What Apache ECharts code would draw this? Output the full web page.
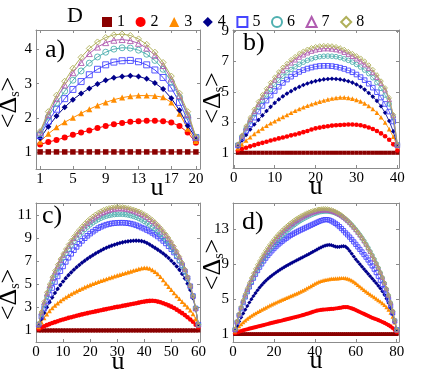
<!DOCTYPE html>
<html><head><meta charset="utf-8">
<script src="https://cdn.jsdelivr.net/npm/echarts@6/dist/echarts.min.js"></script>
<style>html,body{margin:0;padding:0;background:#fff}#c{width:431px;height:373px}</style>
</head><body><div id="c"></div><script>
// ---------- data ----------
const legendTitle = 'D';
const legendLabels = ['1','2','3','4','5','6','7','8'];
const panelLabels = ['a)','b)','c)','d)'];
const xTicksA = [1,5,9,13,17,20], yTicksA = [1,2,3,4];
const xTicksB = [0,10,20,30,40], yTicksB = [1,3,5,7,9];
const xTicksC = [0,10,20,30,40,50,60], yTicksC = [1,3,5,7,9,11];
const xTicksD = [0,20,40,60,80], yTicksD = [1,5,9,13];

// panel a) u = 1..20
const a1 = [1,1,1,1,1,1,1,1,1,1,1,1,1,1,1,1,1,1,1,1];
const a2 = [1.22,1.29,1.35,1.42,1.5,1.57,1.63,1.7,1.76,1.81,1.85,1.88,1.9,1.91,1.91,1.9,1.86,1.76,1.57,1.27];
const a3 = [1.3,1.53,1.72,1.87,2.0,2.13,2.25,2.36,2.45,2.53,2.59,2.63,2.65,2.65,2.64,2.6,2.45,2.12,1.68,1.32];
const a4 = [1.4,1.74,2.05,2.31,2.53,2.71,2.86,2.99,3.1,3.17,3.21,3.23,3.21,3.14,3.02,2.84,2.57,2.22,1.77,1.4];
const a5 = [1.48,1.9,2.25,2.56,2.83,3.06,3.26,3.42,3.55,3.63,3.67,3.68,3.64,3.55,3.4,3.18,2.87,2.45,1.93,1.42];
const a6 = [1.53,2.02,2.43,2.78,3.1,3.37,3.6,3.78,3.92,4.01,4.05,4.04,3.98,3.86,3.68,3.42,3.05,2.6,2.05,1.43];
const a7 = [1.58,2.1,2.56,2.96,3.32,3.62,3.88,4.07,4.2,4.27,4.29,4.26,4.18,4.04,3.83,3.53,3.14,2.65,2.1,1.43];
const a8 = [1.6,2.18,2.66,3.07,3.45,3.77,4.03,4.22,4.35,4.43,4.45,4.41,4.31,4.15,3.92,3.62,3.22,2.72,2.18,1.44];

// panel b) u = 1..40
const b1 = [1,1,1,1,1,1,1,1,1,1,1,1,1,1,1,1,1,1,1,1,1,1,1,1,1,1,1,1,1,1,1,1,1,1,1,1,1,1,1,1];
const b2 = [1.15,1.25,1.33,1.42,1.5,1.58,1.65,1.72,1.8,1.87,1.94,2.0,2.07,2.14,2.2,2.27,2.35,2.43,2.52,2.6,2.65,2.7,2.74,2.78,2.8,2.82,2.84,2.85,2.85,2.84,2.8,2.74,2.66,2.56,2.43,2.27,2.08,1.85,1.55,1.15];
const b3 = [1.3,1.55,1.8,2.02,2.24,2.43,2.6,2.77,2.93,3.07,3.22,3.35,3.48,3.62,3.75,3.87,3.98,4.08,4.18,4.27,4.35,4.43,4.5,4.56,4.6,4.63,4.63,4.6,4.55,4.47,4.37,4.24,4.07,3.87,3.63,3.33,2.98,2.55,2.05,1.45];
const b4 = [1.42,1.8,2.17,2.52,2.85,3.15,3.45,3.74,4.01,4.27,4.5,4.7,4.88,5.04,5.19,5.32,5.44,5.54,5.63,5.7,5.76,5.81,5.84,5.85,5.84,5.81,5.76,5.69,5.6,5.48,5.33,5.14,4.92,4.68,4.4,4.05,3.62,3.08,2.4,1.5];
const b5 = [1.48,1.95,2.42,2.87,3.3,3.7,4.07,4.42,4.75,5.05,5.33,5.58,5.8,5.99,6.16,6.3,6.42,6.52,6.59,6.65,6.69,6.7,6.7,6.68,6.64,6.58,6.5,6.4,6.28,6.13,5.96,5.76,5.53,5.27,4.97,4.62,4.2,3.7,3.05,1.5];
const b6 = [1.52,2.05,2.58,3.08,3.55,4.0,4.42,4.8,5.15,5.47,5.76,6.02,6.25,6.46,6.64,6.8,6.94,7.06,7.16,7.24,7.3,7.33,7.34,7.33,7.3,7.24,7.16,7.06,6.94,6.79,6.62,6.42,6.19,5.92,5.6,5.22,4.78,4.2,3.35,1.5];
const b7 = [1.55,2.1,2.65,3.2,3.72,4.2,4.65,5.05,5.43,5.78,6.1,6.4,6.66,6.9,7.1,7.28,7.43,7.56,7.67,7.75,7.8,7.83,7.83,7.81,7.77,7.7,7.6,7.47,7.33,7.17,6.98,6.78,6.55,6.27,5.95,5.57,5.13,4.5,3.45,1.52];
const b8 = [1.55,2.15,2.75,3.3,3.85,4.35,4.8,5.2,5.6,5.95,6.3,6.6,6.85,7.1,7.3,7.5,7.65,7.78,7.88,7.95,8.0,8.02,8.02,8.0,7.95,7.87,7.77,7.63,7.5,7.35,7.2,7.0,6.75,6.45,6.1,5.7,5.25,4.6,3.5,1.55];

// panel c) u = 1..60
const c1 = [1,1,1,1,1,1,1,1,1,1,1,1,1,1,1,1,1,1,1,1,1,1,1,1,1,1,1,1,1,1,1,1,1,1,1,1,1,1,1,1,1,1,1,1,1,1,1,1,1,1,1,1,1,1,1,1,1,1,1,1];
const c2 = [1.12,1.25,1.36,1.46,1.55,1.64,1.72,1.8,1.88,1.95,2.02,2.09,2.15,2.21,2.27,2.33,2.39,2.45,2.5,2.55,2.6,2.65,2.7,2.75,2.8,2.85,2.9,2.95,3.0,3.04,3.08,3.13,3.17,3.22,3.27,3.31,3.36,3.41,3.46,3.5,3.54,3.56,3.57,3.55,3.5,3.44,3.36,3.27,3.17,3.06,2.94,2.8,2.65,2.5,2.33,2.15,1.95,1.75,1.5,1.25];
const c3 = [1.3,1.72,2.08,2.4,2.7,2.95,3.17,3.37,3.55,3.72,3.88,4.02,4.16,4.29,4.41,4.53,4.64,4.75,4.85,4.95,5.04,5.13,5.22,5.3,5.38,5.46,5.54,5.62,5.7,5.77,5.84,5.91,5.98,6.05,6.12,6.19,6.26,6.33,6.39,6.43,6.42,6.36,6.25,6.1,5.9,5.65,5.37,5.08,4.8,4.52,4.25,3.99,3.74,3.5,3.26,3.02,2.75,2.42,2.0,1.42];
const c4 = [1.45,2.0,2.52,3.0,3.45,3.86,4.24,4.6,4.93,5.24,5.53,5.79,6.03,6.26,6.47,6.67,6.86,7.04,7.21,7.37,7.52,7.66,7.8,7.93,8.05,8.16,8.26,8.35,8.43,8.5,8.57,8.63,8.68,8.72,8.75,8.77,8.78,8.77,8.74,8.68,8.58,8.45,8.3,8.15,8.0,7.84,7.67,7.48,7.27,7.04,6.8,6.55,6.25,5.9,5.5,5.05,4.5,3.8,2.85,1.5];
const c5 = [1.5,2.2,2.88,3.52,4.12,4.68,5.2,5.68,6.13,6.55,6.94,7.3,7.64,7.95,8.24,8.51,8.76,8.99,9.2,9.39,9.56,9.72,9.86,9.98,10.08,10.16,10.22,10.27,10.3,10.32,10.33,10.33,10.32,10.29,10.25,10.19,10.11,10.02,9.91,9.82,9.7,9.58,9.45,9.3,9.14,8.96,8.76,8.54,8.3,8.04,7.75,7.42,7.05,6.62,6.12,5.53,4.83,3.98,2.9,1.5];
const c6 = [1.55,2.4,3.2,3.95,4.63,5.25,5.82,6.34,6.82,7.26,7.67,8.04,8.39,8.71,9.0,9.27,9.52,9.75,9.96,10.15,10.32,10.47,10.6,10.72,10.82,10.9,10.96,11.01,11.04,11.06,11.07,11.06,11.04,11.0,10.95,10.88,10.8,10.7,10.58,10.45,10.3,10.14,9.96,9.77,9.56,9.33,9.08,8.81,8.52,8.2,7.85,7.47,7.05,6.58,6.06,5.47,4.8,3.98,2.92,1.5];
const c7 = [1.58,2.55,3.42,4.2,4.9,5.52,6.08,6.6,7.08,7.53,7.94,8.32,8.67,9.0,9.3,9.58,9.84,10.08,10.3,10.5,10.68,10.85,11.0,11.13,11.24,11.34,11.42,11.48,11.52,11.55,11.56,11.55,11.52,11.48,11.42,11.35,11.27,11.17,11.06,10.94,10.8,10.64,10.46,10.26,10.04,9.8,9.54,9.26,8.95,8.61,8.24,7.83,7.38,6.87,6.3,5.66,4.92,4.03,2.92,1.5];
const c8 = [1.6,2.6,3.5,4.3,5.0,5.62,6.18,6.7,7.18,7.63,8.05,8.44,8.8,9.14,9.45,9.74,10.01,10.26,10.49,10.7,10.89,11.06,11.21,11.34,11.45,11.54,11.61,11.66,11.69,11.71,11.71,11.7,11.67,11.62,11.55,11.49,11.41,11.32,11.21,11.08,10.94,10.77,10.58,10.37,10.14,9.89,9.62,9.33,9.01,8.66,8.28,7.86,7.4,6.88,6.3,5.65,4.9,4.0,2.95,1.5];

// panel d) u = 1..80
const d1 = [1,1,1,1,1,1,1,1,1,1,1,1,1,1,1,1,1,1,1,1,1,1,1,1,1,1,1,1,1,1,1,1,1,1,1,1,1,1,1,1,1,1,1,1,1,1,1,1,1,1,1,1,1,1,1,1,1,1,1,1,1,1,1,1,1,1,1,1,1,1,1,1,1,1,1,1,1,1,1,1];
const d2 = [1.1,1.2,1.28,1.36,1.43,1.5,1.56,1.62,1.68,1.74,1.8,1.86,1.92,1.98,2.04,2.1,2.16,2.22,2.28,2.34,2.4,2.45,2.5,2.56,2.62,2.68,2.74,2.8,2.86,2.92,2.98,3.04,3.1,3.17,3.24,3.31,3.38,3.46,3.54,3.62,3.68,3.73,3.77,3.8,3.82,3.84,3.86,3.88,3.9,3.93,3.96,4.0,4.04,4.08,4.1,4.08,4.02,3.94,3.85,3.75,3.64,3.53,3.42,3.31,3.2,3.09,2.98,2.87,2.78,2.7,2.6,2.5,2.39,2.28,2.16,2.03,1.88,1.7,1.48,1.22];
const d3 = [1.3,1.62,1.9,2.15,2.38,2.58,2.77,2.94,3.1,3.25,3.39,3.53,3.66,3.79,3.92,4.04,4.16,4.28,4.4,4.51,4.62,4.73,4.84,4.94,5.04,5.14,5.24,5.34,5.44,5.54,5.64,5.75,5.86,5.98,6.1,6.23,6.36,6.5,6.64,6.78,6.9,7.0,7.08,7.15,7.2,7.25,7.3,7.34,7.36,7.37,7.38,7.4,7.42,7.42,7.4,7.35,7.27,7.15,7.0,6.83,6.64,6.45,6.26,6.07,5.89,5.72,5.55,5.39,5.23,5.07,4.9,4.73,4.54,4.33,4.09,3.8,3.45,3.0,2.35,1.4];
const d4 = [1.45,1.95,2.45,2.92,3.37,3.8,4.22,4.62,5.0,5.36,5.7,6.02,6.32,6.6,6.86,7.1,7.31,7.51,7.7,7.88,8.05,8.21,8.37,8.52,8.66,8.8,8.93,9.06,9.19,9.31,9.43,9.55,9.67,9.79,9.91,10.03,10.15,10.28,10.41,10.54,10.67,10.8,10.92,11.03,11.12,11.18,11.2,11.17,11.1,11.02,10.98,10.99,11.03,11.06,11.0,10.8,10.52,10.2,9.88,9.56,9.28,9.0,8.72,8.44,8.17,7.9,7.63,7.36,7.09,6.82,6.53,6.22,5.88,5.5,5.06,4.56,3.98,3.28,2.45,1.45];
const d5 = [1.5,2.35,3.15,3.9,4.6,5.25,5.85,6.4,6.92,7.4,7.85,8.27,8.66,9.03,9.37,9.69,9.99,10.27,10.53,10.78,11.01,11.23,11.43,11.62,11.8,11.97,12.13,12.28,12.42,12.55,12.67,12.79,12.9,13.01,13.12,13.23,13.34,13.45,13.56,13.67,13.78,13.89,13.98,14.05,14.1,14.1,14.05,13.95,13.82,13.67,13.5,13.3,13.08,12.84,12.58,12.35,12.1,11.83,11.55,11.27,10.98,10.69,10.4,10.1,9.8,9.48,9.15,8.8,8.43,8.04,7.62,7.17,6.68,6.15,5.57,4.93,4.22,3.42,2.5,1.5];
const d6 = [1.55,2.4,3.2,3.95,4.65,5.3,5.9,6.47,7.0,7.5,7.98,8.43,8.85,9.25,9.63,9.99,10.33,10.65,10.96,11.25,11.53,11.79,12.04,12.28,12.51,12.73,12.94,13.14,13.33,13.51,13.68,13.84,13.99,14.13,14.26,14.38,14.5,14.61,14.71,14.8,14.88,14.95,15.0,15.03,15.05,15.05,15.03,14.99,14.93,14.85,14.75,14.63,14.49,14.33,14.15,13.95,13.73,13.49,13.23,12.95,12.65,12.34,12.01,11.66,11.28,10.87,10.45,10.01,9.55,9.06,8.55,8.01,7.43,6.81,6.13,5.38,4.55,3.6,2.55,1.5];
const d7 = [1.58,2.46,3.3,4.08,4.8,5.48,6.11,6.7,7.26,7.78,8.27,8.73,9.16,9.57,9.96,10.33,10.68,11.01,11.32,11.62,11.9,12.17,12.42,12.66,12.89,13.1,13.3,13.49,13.67,13.84,14.0,14.15,14.29,14.42,14.55,14.66,14.76,14.86,14.95,15.03,15.09,15.14,15.18,15.2,15.2,15.19,15.16,15.11,15.04,14.95,14.84,14.71,14.56,14.39,14.2,13.99,13.76,13.51,13.24,12.96,12.66,12.35,12.02,11.67,11.29,10.87,10.46,10.03,9.58,9.1,8.6,8.07,7.5,6.87,6.19,5.44,4.6,3.65,2.6,1.5];
const d8 = [1.6,2.5,3.35,4.15,4.9,5.6,6.25,6.85,7.42,7.96,8.46,8.93,9.37,9.79,10.18,10.55,10.9,11.23,11.54,11.84,12.12,12.38,12.63,12.87,13.09,13.3,13.5,13.69,13.87,14.04,14.2,14.35,14.49,14.62,14.74,14.85,14.95,15.04,15.12,15.19,15.25,15.3,15.33,15.35,15.35,15.33,15.29,15.23,15.15,15.05,14.93,14.79,14.63,14.45,14.25,14.03,13.79,13.53,13.25,12.98,12.68,12.37,12.04,11.68,11.28,10.85,10.45,10.03,9.59,9.12,8.62,8.09,7.52,6.9,6.22,5.47,4.63,3.68,2.62,1.5];

// ---------- style ----------
const F = '"Liberation Serif", "Times New Roman", serif';
const colors  = ['#8b0000','#ff0000','#ff8c00','#00008b','#4646ff','#4fb0b0','#b05cb0','#b0b05a'];
const symbols = ['rect','circle','triangle','diamond','rect','circle','triangle','diamond'];
const hollow  = [false,false,false,false,true,true,true,true];
const axisGray = '#8c8c8c';

const panels = [
  {grid:{left:36,top:30,width:164,height:139}, xMin:0.5, xMax:20.5, yMin:0.5, yMax:4.57, xt:xTicksA, yt:yTicksA,
   data:[a1,a2,a3,a4,a5,a6,a7,a8], ss:6, lw:1, lab:[45,37], uPad:[0,0,0,78], uGap:6, yGap:14, yPad:[0,6,0,0]},
  {grid:{left:233,top:30,width:166,height:138}, xMin:-0.2, xMax:40.4, yMin:0, yMax:9.05, xt:xTicksB, yt:yTicksB,
   data:[b1,b2,b3,b4,b5,b6,b7,b8], ss:4.6, lw:0.8, lab:[243,30], uPad:[0,0,0,0], uGap:6, yGap:7, yPad:[0,0,0,2]},
  {grid:{left:36,top:203,width:164,height:139}, xMin:0, xMax:60.6, yMin:0, yMax:12.04, xt:xTicksC, yt:yTicksC,
   data:[c1,c2,c3,c4,c5,c6,c7,c8], ss:4.6, lw:0.8, lab:[42,203], uPad:[0,0,0,0], uGap:7, yGap:14, yPad:[0,44,0,0]},
  {grid:{left:233,top:203,width:166,height:139}, xMin:0, xMax:81.1, yMin:0.1, yMax:16, xt:xTicksD, yt:yTicksD,
   data:[d1,d2,d3,d4,d5,d6,d7,d8], ss:4.2, lw:0.8, lab:[242,209], uPad:[0,0,0,0], uGap:6, yGap:7, yPad:[0,0,0,16]}
];

const grid = [], xAxis = [], yAxis = [], series = [], graphic = [];
const tickStyle = {color: axisGray, width: 1};
panels.forEach((p, i) => {
  grid.push(Object.assign({containLabel:false, outerBoundsMode:'none'}, p.grid));
  xAxis.push({
    gridIndex:i, type:'value', min:p.xMin, max:p.xMax, position:'bottom',
    axisLine:{show:true, onZero:false, lineStyle:{color:axisGray, width:1}},
    axisTick:{show:true, inside:true, length:3, customValues:p.xt, lineStyle:tickStyle},
    axisLabel:{show:true, customValues:p.xt, fontFamily:F, fontSize:15, color:'#000', margin:3},
    splitLine:{show:false},
    name:'u', nameLocation:'middle', nameGap:p.uGap, nameMoveOverlap:false,
    nameTextStyle:{fontFamily:F, fontSize:26, color:'#000', verticalAlign:'top', padding:p.uPad}
  });
  yAxis.push({
    gridIndex:i, type:'value', min:p.yMin, max:p.yMax, position:'left',
    axisLine:{show:true, onZero:false, lineStyle:{color:axisGray, width:1}},
    axisTick:{show:true, inside:true, length:3, customValues:p.yt, lineStyle:tickStyle},
    axisLabel:{show:true, customValues:p.yt, fontFamily:F, fontSize:15, color:'#000', margin:4},
    splitLine:{show:false},
    name:'{m|<Δ}{s|s}{m|>}', nameLocation:'middle', nameGap:p.yGap, nameRotate:90, nameMoveOverlap:false,
    nameTextStyle:{padding:p.yPad, rich:{
      m:{fontFamily:F, fontSize:26, color:'#000'},
      s:{fontFamily:F, fontSize:14, color:'#000', verticalAlign:'bottom'}
    }}
  });
});
panels.forEach((p, i) => {
  xAxis.push({
    gridIndex:i, type:'value', min:p.xMin, max:p.xMax, position:'top',
    axisLine:{show:true, onZero:false, lineStyle:{color:axisGray, width:1}},
    axisTick:{show:true, inside:true, length:3, customValues:p.xt, lineStyle:tickStyle},
    axisLabel:{show:false}, splitLine:{show:false}
  });
  yAxis.push({
    gridIndex:i, type:'value', min:p.yMin, max:p.yMax, position:'right',
    axisLine:{show:true, onZero:false, lineStyle:{color:axisGray, width:1}},
    axisTick:{show:true, inside:true, length:3, customValues:p.yt, lineStyle:tickStyle},
    axisLabel:{show:false}, splitLine:{show:false}
  });
  p.data.forEach((arr, k) => {
    series.push({
      type:'line', name:legendLabels[k], xAxisIndex:i, yAxisIndex:i,
      data: arr.map((v, j) => [j + 1, v]),
      symbol: symbols[k], symbolSize: (k === 0 ? p.ss - 0.5 : p.ss),
      showSymbol:true, silent:true, animation:false, z: 2 + k,
      lineStyle:{color:colors[k], width:p.lw},
      itemStyle: hollow[k]
        ? {color:'rgba(255,255,255,0)', borderColor:colors[k], borderWidth:0.9}
        : {color:colors[k], borderWidth:0}
    });
  });
  graphic.push({type:'text', left:p.lab[0], top:p.lab[1],
    style:{text:panelLabels[i], font:'26px "Liberation Serif"', fill:'#000'}});
});
graphic.push({type:'text', left:67, top:5, style:{text:legendTitle, font:'22px "Liberation Serif"', fill:'#000'}});

const chart = echarts.init(document.getElementById('c'), null, {renderer:'canvas'});
chart.setOption({
  animation:false,
  backgroundColor:'#fff',
  grid, xAxis, yAxis, series, graphic,
  legend:{
    left:97, top:9, itemWidth:10, itemHeight:10, itemGap:10.6, selectedMode:false,
    textStyle:{fontFamily:F, fontSize:16, color:'#000'},
    lineStyle:{opacity:0, width:0},
    data: legendLabels.map((n, i) => ({name:n, icon:symbols[i]}))
  }
});
</script></body></html>
